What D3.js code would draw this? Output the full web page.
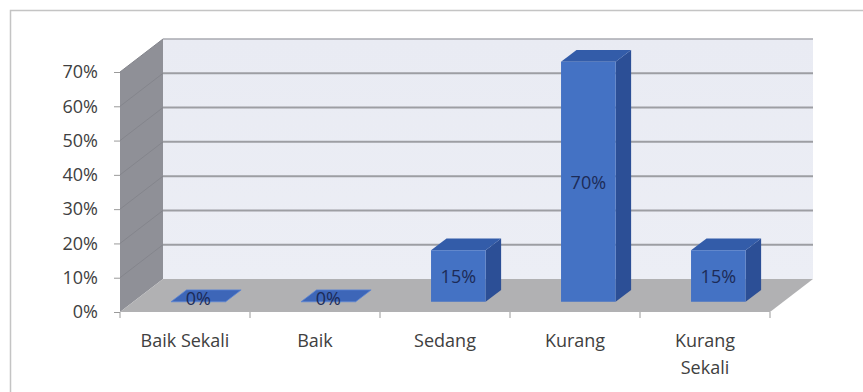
<!DOCTYPE html>
<html><head><meta charset="utf-8">
<script src="https://cdn.jsdelivr.net/npm/d3@7"></script>
<style>body{margin:0;background:#fff;}svg{display:block;}</style>
</head><body><div id="chart"></div>
<script>
const categories = ["Baik Sekali", "Baik", "Sedang", "Kurang", "Kurang Sekali"];
const values = [0, 0, 0.15, 0.70, 0.15];
const yTicks = [0, 0.1, 0.2, 0.3, 0.4, 0.5, 0.6, 0.7];

const W = 863, H = 392;
const svg = d3.select("#chart").append("svg").attr("width", W).attr("height", H);
const font = "'Open Sans', sans-serif";
const fs = "18px";

svg.append("path").attr("d", `M10.5,${H} L10.5,10.5 L${W},10.5`).attr("fill","none").attr("stroke","#c4c4c4").attr("stroke-width",1.5);

const x = d3.scaleBand().domain(categories).range([120, 770]).paddingInner(0).paddingOuter(0);
const y = d3.scaleLinear().domain([0, 0.7]).range([312, 72]);
const DX = 43, DY = -33;
const P = (px, v, d) => [px + d*DX, y(v) + d*DY];
const poly = pts => "M" + pts.map(p => p.join(",")).join("L") + "Z";

const x0 = x.range()[0], x1 = x.range()[1];
const defs = svg.append("defs");
const gw = defs.append("linearGradient").attr("id","wall").attr("x1",0).attr("y1",0).attr("x2",0).attr("y2",1);
gw.append("stop").attr("offset",0).attr("stop-color","#e9ebf3");
gw.append("stop").attr("offset",1).attr("stop-color","#eceef5");
svg.append("path").attr("d", poly([P(x0,0,1),P(x0,0.7,1),P(x1,0.7,1),P(x1,0,1)])).attr("fill","url(#wall)");
svg.append("path").attr("d", poly([P(x0,0,0),P(x0,0.7,0),P(x0,0.7,1),P(x0,0,1)])).attr("fill","#8f9097");
svg.append("path").attr("d", poly([P(x0,0,0),P(x0,0,1),P(x1,0,1),P(x1,0,0)])).attr("fill","#b1b1b3");

yTicks.forEach(t => {
  if (t > 0 && t < 0.7) {
    const a = P(x0,t,1), b = P(x1,t,1);
    svg.append("line").attr("x1",a[0]).attr("y1",a[1]).attr("x2",b[0]).attr("y2",b[1]).attr("stroke","#9d9ea3").attr("stroke-width",2);
  }
  if (t > 0) {
    const c = P(x0,t,0), d = P(x0,t,1);
    svg.append("line").attr("x1",c[0]).attr("y1",c[1]).attr("x2",d[0]).attr("y2",d[1]).attr("stroke","#84858c").attr("stroke-width",1);
  }
});
{
  const a = P(x0,0.7,1), b = P(x1,0.7,1);
  svg.append("line").attr("x1",a[0]).attr("y1",a[1]).attr("x2",b[0]).attr("y2",b[1]).attr("stroke","#a9aab0").attr("stroke-width",1.5);
}

const yAxis = d3.axisLeft(y).tickValues(yTicks).tickFormat(d3.format(".0%")).tickSize(6).tickPadding(16);
const ya = svg.append("g").attr("transform", `translate(${x0},0)`).call(yAxis);
ya.select(".domain").remove();
ya.selectAll("line").attr("stroke","#9a9a9a");
ya.selectAll("text").attr("fill","#404040").style("font-family",font).style("font-size",fs);

const bounds = categories.map(c => x(c)).concat([x1]);
svg.selectAll(".xt").data(bounds).enter().append("line")
  .attr("x1",d=>d).attr("x2",d=>d).attr("y1",y(0)).attr("y2",y(0)+6).attr("stroke","#9a9a9a");
const xAxis = d3.axisBottom(x).tickSize(0).tickPadding(22);
const xa = svg.append("g").attr("transform", `translate(0,${y(0)})`).call(xAxis);
xa.select(".domain").remove();
xa.selectAll("text").attr("fill","#404040").style("font-family",font).style("font-size",fs)
  .each(function(d){
    if (d === "Kurang Sekali") {
      const t = d3.select(this); t.text(null);
      d.split(" ").forEach((w,i)=> t.append("tspan").attr("x",0).attr("dy", i===0 ? "0.71em" : "1.5em").text(w));
    }
  });

const bw = x.bandwidth()*0.42;
const d0 = 0.31, d1 = 0.67;
const bars = svg.append("g");
categories.forEach((c,i) => {
  const v = values[i];
  const xl = x(c) + (x.bandwidth()-bw)/2, xr = xl + bw;
  const g = bars.append("g");
  g.append("path").attr("d", poly([P(xr,0,d0),P(xr,v,d0),P(xr,v,d1),P(xr,0,d1)])).attr("fill","#2c4f96");
  g.append("path").attr("d", poly([P(xl,v,d0),P(xl,v,d1),P(xr,v,d1),P(xr,v,d0)]))
    .attr("fill", v===0 ? "#3d66b8" : "#335ca9").attr("stroke", v===0 ? "#5d86d4" : "none").attr("stroke-width",0.8);
  g.append("path").attr("d", poly([P(xl,0,d0),P(xl,v,d0),P(xr,v,d0),P(xr,0,d0)])).attr("fill","#4472c4");
  const cx = (xl+xr)/2 + d0*DX;
  const cy = (y(0)+y(v))/2 + d0*DY;
  g.append("text").attr("x",cx).attr("y", v===0 ? cy-4 : cy).attr("text-anchor","middle").attr("dominant-baseline","central")
    .attr("fill","#1c2b57").style("font-family",font).style("font-size",fs).text(d3.format(".0%")(v));
});
</script></body></html>
